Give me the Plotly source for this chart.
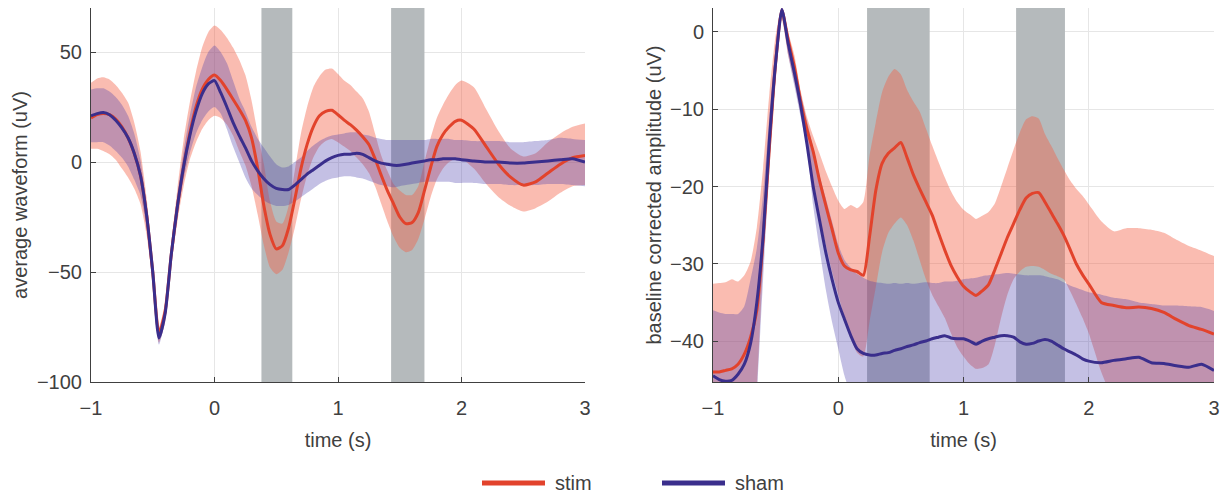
import plotly.graph_objects as go

# ---------------- data ----------------
T = [-1, -0.95, -0.9, -0.85, -0.8, -0.75, -0.7, -0.65, -0.6, -0.55,
     -0.5, -0.45, -0.4, -0.35, -0.3, -0.25, -0.2, -0.15, -0.1, -0.05,
     0, 0.05, 0.1, 0.15, 0.2, 0.25, 0.3, 0.35, 0.4, 0.45,
     0.5, 0.55, 0.6, 0.65, 0.7, 0.75, 0.8, 0.85, 0.9, 0.95,
     1.0, 1.05, 1.1, 1.15, 1.2, 1.25, 1.3, 1.35, 1.4, 1.45,
     1.5, 1.55, 1.6, 1.65, 1.7, 1.75, 1.8, 1.85, 1.9, 1.95,
     2.0, 2.1, 2.2, 2.3, 2.4, 2.5, 2.6, 2.7, 2.8, 2.9, 3.0]

# left panel: average waveform (uV)
left_stim = [20, 21.5, 22, 21.5, 19.5, 16, 11, 4, -6, -24,
             -50, -78, -68, -42, -20, -2, 13, 25, 33, 37.5,
             39.5, 37, 33, 28.5, 24, 19, 11, -3, -20, -33,
             -39.5, -38, -30, -17, -3, 8, 16, 21, 23, 23.5,
             21.5, 19, 17, 14.5, 11.5, 8, 1.5, -6, -13, -19,
             -25, -28, -27.5, -23, -13, -2.5, 7, 12.5, 16, 18.5,
             19, 15, 7, -1, -7, -10.5, -9, -5, -1, 2, 3]
left_stim_hi = [36, 38, 38.5, 37.5, 35, 31.5, 27, 18, 5, -16,
                -46, -75, -64, -37, -12, 10, 27, 41, 52, 59,
                62, 60, 56.5, 52, 46.5, 39.5, 28, 13, -1, -18,
                -27, -28, -20, -4, 13, 25, 34, 39, 42, 42.5,
                40, 37, 35, 32, 29, 23, 13, 3, -4, -10,
                -13, -15, -15, -11, 0, 11, 20, 26, 31, 35,
                37, 34, 24, 14, 6, 2.5, 4, 9, 13, 16, 17.5]
left_stim_lo = [6, 6, 5, 3.5, 1, -3, -7, -12, -19, -33,
                -55, -82, -73, -47, -27, -11, 1, 9, 15, 19,
                21, 20, 17, 12, 5, -1.5, -11, -24, -38, -48,
                -51, -49, -41, -30, -17, -6, 2, 7, 9.5, 10.5,
                9, 7, 5, 2, -1, -5, -11, -19, -27, -34,
                -39, -41, -40, -35, -26, -16, -8, -3, 0, 1.5,
                1.5, -3, -10, -16, -20, -22.5, -21, -18, -14, -11, -10.5]
left_sham = [21, 22, 22.5, 21.5, 19, 15.5, 11, 4, -6, -24,
             -50, -80, -69, -42, -20, -2, 12, 23, 31, 35.5,
             37, 31.5, 25, 18, 12, 6.5, 0.5, -4, -7.6, -10.3,
             -12, -12.5, -12.5, -10.5, -8, -5.5, -3.5, -1.5, 0.5, 2,
             3, 3.5, 3.5, 4, 3.5, 2, 0.5, -0.5, -1, -1.5,
             -1.5, -1, -0.5, 0, 0.5, 1, 1, 1.5, 1.5, 1.5,
             1, 0.5, 0, 0, -0.5, -0.5, 0, 0.5, 1, 1.5, 0]
left_sham_hi = [33, 33.5, 33.5, 32, 29.5, 26, 21, 13, 1, -19,
                -47, -77, -66, -39, -15, 5, 21, 34, 43, 50,
                53, 50, 45, 37, 29, 23, 16, 10.6, 6.5, 2.5,
                -1, -2.5, -2, 0, 2, 5, 7.5, 9.5, 11, 12,
                12.5, 13, 13.5, 13.5, 12.5, 12, 11, 10.5, 10, 10,
                10, 10, 10, 10, 10, 10.5, 10.5, 10.5, 10.5, 10,
                10, 9.5, 9.5, 9.5, 9, 9, 9.5, 10, 11, 10.5, 10]
left_sham_lo = [9, 9, 9, 7.5, 5, 2, -2, -8, -15, -30,
                -54, -83, -72, -46, -24, -8, 4, 13, 19, 23,
                25, 22, 15, 7, 0, -7, -12, -15, -17.5, -19,
                -20, -20, -19.5, -18, -16, -14, -12, -10, -8.5, -7.5,
                -7, -6.5, -6.5, -7, -7.5, -8.5, -9.5, -10.5, -11, -11.5,
                -11, -10.5, -10, -9.5, -9, -9, -9, -9, -9, -9.5,
                -9.5, -9.5, -10, -10, -10.5, -10.5, -10.5, -10, -10, -10.5, -11]

# right panel: baseline corrected amplitude (uV)
right_stim = [-44, -44, -43.8, -43.6, -43, -41.7, -39.5, -36, -27, -15,
              -4, 2.8, -1, -4.5, -9, -12.6, -15.5, -19.2, -22.4, -25.5,
              -28.6, -30.3, -30.8, -31, -31.5, -26.5, -20.5, -17, -15.7, -15,
              -14.3, -16.3, -18.5, -20.3, -22, -23.7, -26, -28.2, -30.2, -31.7,
              -32.9, -33.6, -34.1, -33.5, -32.7, -30.8, -28.7, -26.6, -24.8, -23,
              -21.5, -20.9, -20.8, -22, -23.4, -24.8, -26.3, -28.1, -30, -31.4,
              -32.6, -35, -35.4, -35.7, -35.6, -35.8, -36.3, -37.2, -38, -38.5, -39.1]
right_stim_hi = [-32.6, -32.5, -32.4, -32, -32.3, -31.5, -29.7, -25.3, -17.6, -8,
                 -0.5, 3.3, 0, -3, -7.6, -11, -13.5, -15.7, -18, -20,
                 -21.8, -22.9, -22.4, -22.8, -22, -16, -11.7, -7.8, -5.8, -4.8,
                 -5.5, -7.5, -9, -10.3, -12.5, -14.7, -16.8, -18.8, -20.6, -22,
                 -23, -23.6, -24.2, -23.8, -23.3, -22.2, -20, -17.6, -15.2, -13,
                 -11.3, -10.9, -11.2, -13.2, -14.7, -16.3, -17.8, -19.2, -20.3, -21.2,
                 -22.3, -24.5, -25.8, -25.4, -25.4, -25.6, -26, -26.9, -27.7, -28.3, -29]
right_stim_lo = [-60, -60, -60, -60, -60, -58, -55, -46, -30, -17,
                 -6, 1.5, -3, -6.5, -10.5, -14.5, -20, -24, -27.5, -31,
                 -34, -37, -39.5, -41.5, -42, -37.5, -33, -28.5, -26, -24.8,
                 -24, -25, -27, -29.5, -32, -34, -35.5, -37, -39, -40.8,
                 -42, -43, -43.6, -43.5, -43, -40.5, -37, -34, -32, -31,
                 -30.4, -30.3, -30.4, -30.8, -31.3, -31.6, -32, -33.5, -35.2, -37,
                 -39, -44, -48, -52, -54, -55, -56, -57, -58, -58, -59]
right_sham = [-44.5, -45, -45.2, -45.1, -44.3, -43, -40.3, -35, -26.5, -14,
              -4, 2.9, -1.5, -5.3, -9.5, -14.5, -20, -24.3, -28.5, -32,
              -35, -37.2, -39.3, -41, -41.6, -41.8, -41.8, -41.6, -41.5, -41.2,
              -41, -40.7, -40.5, -40.2, -40, -39.7, -39.5, -39.3, -39.6, -39.7,
              -39.7, -40, -40.4, -40, -39.7, -39.5, -39.3, -39.3, -39.5, -40.1,
              -40.4, -40.3, -40, -39.8, -40, -40.5, -41, -41.4, -41.8, -42.3,
              -42.6, -42.8, -42.5, -42.3, -42.1, -42.8, -42.9, -43.2, -43.4, -43, -43.8]
right_sham_hi = [-36, -36.3, -36.5, -36.5, -36.5, -35.5, -32, -28, -21, -11,
                 -2, 3.2, -0.5, -4, -8, -11.5, -15, -18.5, -21.5, -24.5,
                 -27.5, -29.5, -30.5, -31.3, -31.8, -32.2, -32.4, -32.5, -32.6, -32.5,
                 -32.6, -32.5, -32.6, -32.5, -32.4, -32.5, -32.5, -32.3, -32.3, -32.2,
                 -32, -31.9, -31.8, -31.6, -31.5, -31.4, -31.3, -31.2, -31.3, -31.4,
                 -31.5, -31.5, -31.5, -31.6, -31.8, -32, -32.4, -32.8, -33.1, -33.4,
                 -33.7, -34, -34.4, -34.6, -35, -35.2, -35.4, -35.4, -35.5, -35.6, -36.1]
right_sham_lo = [-60, -60, -60, -60, -60, -60, -58, -47, -32, -18,
                 -6, 2.5, -3, -7, -11, -15, -22.5, -28, -33.3, -37.5,
                 -41, -44.5, -47, -50, -52, -54, -55, -56, -56, -56,
                 -56, -56, -56, -56, -56, -56, -56, -56, -56, -56,
                 -56, -56, -56, -56, -56, -56, -56, -56, -56, -56,
                 -56, -56, -56, -56, -56, -56, -56, -56, -56, -56,
                 -56, -56, -56, -56, -56, -56, -56, -56, -56, -56, -56]

# stimulation windows (s)
left_windows = [[0.38, 0.63], [1.43, 1.70]]
right_windows = [[0.23, 0.73], [1.42, 1.81]]

X_TICKS = [-1, 0, 1, 2, 3]
LEFT_Y_RANGE = [-100, 70]
RIGHT_Y_RANGE = [-45.3, 3.1]
LEFT_Y_TICKS = [-100, -50, 0, 50]
RIGHT_Y_TICKS = [-40, -30, -20, -10, 0]
SERIES = ["stim", "sham"]

# ---------------- style ----------------
W, H = 1223, 494
STIM_LINE = "#e2432c"
SHAM_LINE = "#3a2e8c"
STIM_FILL = "rgba(242,95,70,0.42)"
SHAM_FILL = "rgba(72,60,170,0.32)"
BAND = "#b5babc"
AX = "#404040"
GRID = "#e6e6e6"
FONT = "Arial, Liberation Sans, sans-serif"
FS = 20
SPL = dict(shape="spline", smoothing=0.6)

fig = go.Figure()


def add_panel(xa, ya, yrange, wins, sm, shi, slo, hm, hhi, hlo):
    # grey stimulation windows (drawn first, above the grid)
    for a, b in wins:
        fig.add_trace(go.Scatter(x=[a, a, b, b, a],
                                 y=[yrange[0], yrange[1], yrange[1], yrange[0], yrange[0]],
                                 mode="lines", fill="toself", fillcolor=BAND, line=dict(width=0),
                                 xaxis=xa, yaxis=ya, showlegend=False, hoverinfo="skip"))
    common = dict(x=T, xaxis=xa, yaxis=ya, showlegend=False, hoverinfo="skip")
    fig.add_trace(go.Scatter(y=slo, mode="lines", line=dict(width=0, **SPL), **common))
    fig.add_trace(go.Scatter(y=shi, mode="lines", fill="tonexty", fillcolor=STIM_FILL,
                             line=dict(width=0, **SPL), **common))
    fig.add_trace(go.Scatter(y=hlo, mode="lines", line=dict(width=0, **SPL), **common))
    fig.add_trace(go.Scatter(y=hhi, mode="lines", fill="tonexty", fillcolor=SHAM_FILL,
                             line=dict(width=0, **SPL), **common))
    fig.add_trace(go.Scatter(y=sm, mode="lines", name=SERIES[0],
                             line=dict(color=STIM_LINE, width=3, **SPL), **common))
    fig.add_trace(go.Scatter(y=hm, mode="lines", name=SERIES[1],
                             line=dict(color=SHAM_LINE, width=3, **SPL), **common))


add_panel("x", "y", LEFT_Y_RANGE, left_windows,
          left_stim, left_stim_hi, left_stim_lo, left_sham, left_sham_hi, left_sham_lo)
add_panel("x2", "y2", RIGHT_Y_RANGE, right_windows,
          right_stim, right_stim_hi, right_stim_lo, right_sham, right_sham_hi, right_sham_lo)

# custom legend (long line samples as in the original)
shapes = []
annotations = []
leg_items = [(482, 545, 553, SERIES[0], STIM_LINE), (662, 725, 733, SERIES[1], SHAM_LINE)]
for x0, x1, xt, name, col in leg_items:
    shapes.append(dict(type="line", xref="paper", yref="paper", x0=x0 / W, x1=x1 / W,
                       y0=1 - 483 / H, y1=1 - 483 / H, line=dict(color=col, width=5)))
    annotations.append(dict(xref="paper", yref="paper", x=xt / W, y=1 - 483 / H, text=name,
                            showarrow=False, xanchor="left", yanchor="middle",
                            font=dict(family=FONT, size=FS, color=AX)))

y_top = 1 - 8 / H
y_bot = 1 - 382 / H

axis_common = dict(showline=True, linecolor=AX, linewidth=1, ticks="inside", ticklen=5,
                   tickcolor=AX, showgrid=True, gridcolor=GRID, gridwidth=1, zeroline=False,
                   tickfont=dict(family=FONT, size=FS, color=AX), layer="above traces",
                   automargin=False)

fig.update_layout(
    width=W, height=H, margin=dict(l=0, r=0, t=0, b=0, autoexpand=False),
    paper_bgcolor="white", plot_bgcolor="white",
    showlegend=False,
    font=dict(family=FONT, size=FS, color=AX),
    xaxis=dict(domain=[91 / W, 585 / W], range=[-1, 3], tickvals=X_TICKS, anchor="y",
               ticklabelstandoff=8,
               title=dict(text="time (s)", standoff=14, font=dict(family=FONT, size=FS, color=AX)),
               **axis_common),
    yaxis=dict(domain=[y_bot, y_top], range=LEFT_Y_RANGE, tickvals=LEFT_Y_TICKS, anchor="x",
               ticklabelstandoff=4,
               title=dict(text="average waveform (uV)", standoff=3, font=dict(family=FONT, size=FS, color=AX)),
               **axis_common),
    xaxis2=dict(domain=[713 / W, 1214 / W], range=[-1, 3], tickvals=X_TICKS, anchor="y2",
                ticklabelstandoff=8,
                title=dict(text="time (s)", standoff=14, font=dict(family=FONT, size=FS, color=AX)),
                **axis_common),
    yaxis2=dict(domain=[y_bot, y_top], range=RIGHT_Y_RANGE, tickvals=RIGHT_Y_TICKS, anchor="x2",
                ticklabelstandoff=4,
                title=dict(text="baseline corrected amplitude (uV)", standoff=3,
                           font=dict(family=FONT, size=FS, color=AX)),
                **axis_common),
    shapes=shapes,
    annotations=annotations,
)

fig.write_html("out.html")
